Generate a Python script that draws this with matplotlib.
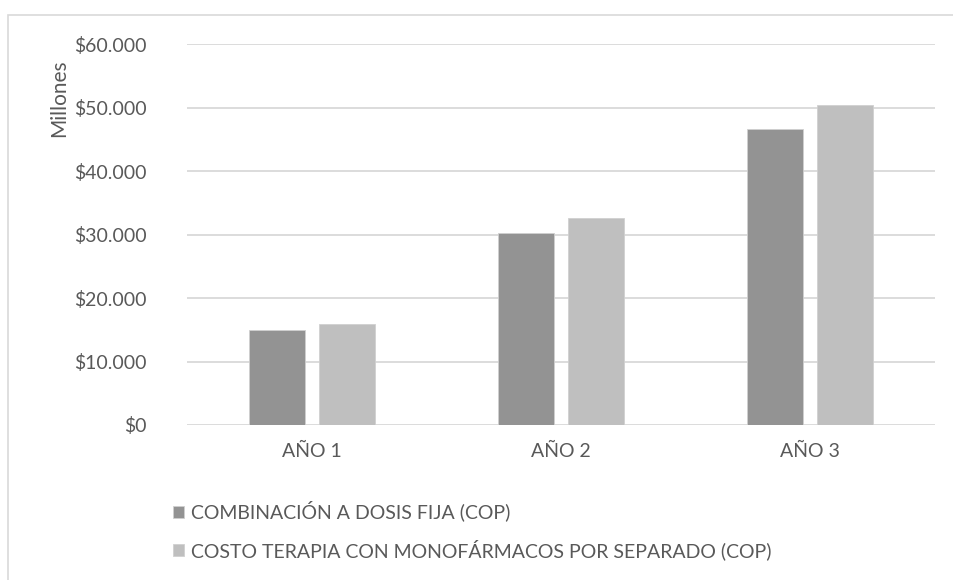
import matplotlib
matplotlib.use("Agg")
import matplotlib.pyplot as plt
from matplotlib.patches import Rectangle
import numpy as np

plt.rcParams['font.family'] = ['Lato', 'DejaVu Sans']

categories = ["AÑO 1", "AÑO 2", "AÑO 3"]
series_names = ["COMBINACIÓN A DOSIS FIJA (COP)",
                "COSTO TERAPIA CON MONOFÁRMACOS POR SEPARADO (COP)"]
fija = [14970, 30200, 46650]
separado = [15870, 32700, 50400]
yticks = [0, 10000, 20000, 30000, 40000, 50000, 60000]
ytick_labels = ["$0", "$10.000", "$20.000", "$30.000", "$40.000", "$50.000", "$60.000"]

dark = "#939393"
light = "#bfbfbf"
text_col = "#595959"
grid_col = "#d9d9d9"

W, H = 954, 580
fig = plt.figure(figsize=(W / 100, H / 100), dpi=100)
ax = fig.add_axes([187 / W, 1 - 425 / H, (935 - 187) / W, (425 - 44.3) / H])

# outer chart frame
fig.patches.append(Rectangle((8 / W, -0.1), 1.2, 1 - 15 / H + 0.1,
                             transform=fig.transFigure, fill=False,
                             edgecolor="#d9d9d9", linewidth=1.2))

x = np.arange(len(categories))
bw = 0.225
gap = 0.056
ax.bar(x - (bw + gap) / 2, fija, bw, color=dark, edgecolor="#d0d0d0",
       linewidth=0.6, zorder=3, label=series_names[0])
ax.bar(x + (bw + gap) / 2, separado, bw, color=light, edgecolor="#d0d0d0",
       linewidth=0.6, zorder=3, label=series_names[1])

ax.set_xlim(-0.5, 2.5)
ax.set_ylim(0, 60000)
ax.set_yticks(yticks)
ax.set_yticklabels(ytick_labels)
ax.set_xticks(x)
ax.set_xticklabels(categories)
ax.yaxis.grid(True, color=grid_col, linewidth=1.3, zorder=0)
ax.set_axisbelow(True)
for s in ax.spines.values():
    s.set_visible(False)
ax.tick_params(axis="both", length=0, colors=text_col, labelsize=14)
ax.tick_params(axis="y", pad=29)
ax.tick_params(axis="x", pad=13)

fig.text(59 / W, 1 - 98 / H, "Millones", rotation=90, ha="center", va="center",
         color=text_col, fontsize=15)

handles, labels = ax.get_legend_handles_labels()
leg = fig.legend(handles, labels, loc="upper left",
                 bbox_to_anchor=(165 / W, 1 - 493 / H), ncol=1, frameon=False,
                 fontsize=14, handlelength=0.6, handleheight=0.6,
                 handletextpad=0.35, labelspacing=0.9, borderaxespad=0)
for t in leg.get_texts():
    t.set_color(text_col)

fig.savefig("out.png", dpi=100, facecolor="white")
